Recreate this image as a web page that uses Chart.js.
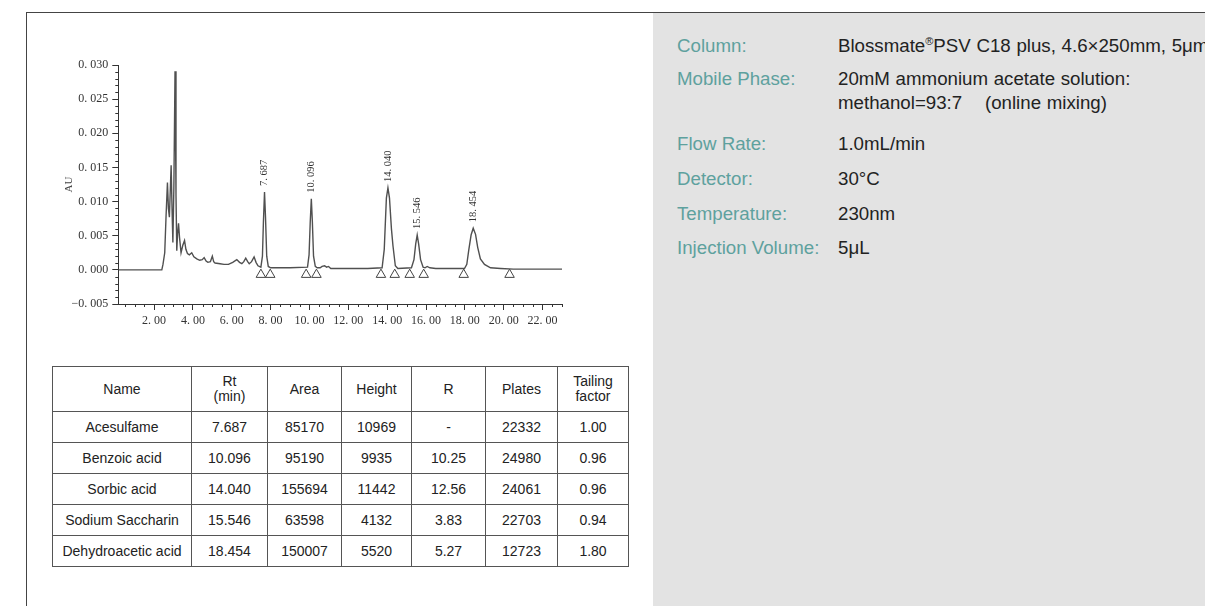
<!DOCTYPE html>
<html lang="en">
<head>
  <meta charset="UTF-8">
  <title>Preservatives and sweeteners HPLC</title>
  <script src="https://cdn.jsdelivr.net/npm/chart.js"></script>
  <style>
    body {
      margin: 0;
      width: 1205px;
      height: 606px;
      overflow: hidden;
      position: relative;
      background: #fff;
      font-family: "Liberation Sans", Arial, sans-serif;
    }
    #top-line {
      position: absolute;
      left: 26px;
      top: 12px;
      right: 0;
      height: 0;
      border-top: 1px solid #444;
    }
    #left-line {
      position: absolute;
      left: 26px;
      top: 12px;
      bottom: 0;
      border-left: 1px solid #444;
    }
    #chromChart {
      position: absolute;
      left: 0;
      top: 0;
    }
    #result-table {
      position: absolute;
      left: 52px;
      top: 366px;
      width: 576px;
      border-collapse: collapse;
      font-size: 14px;
      color: #222;
      table-layout: fixed;
    }
    #result-table td, #result-table th {
      border: 1px solid #555;
      text-align: center;
      font-weight: normal;
      padding: 0;
      height: 30px;
      line-height: 15px;
    }
    #result-table th { height: 44px; }
    #cond-panel {
      position: absolute;
      left: 653px;
      top: 13px;
      right: 0;
      bottom: 0;
      background: #e3e3e3;
      overflow: hidden;
    }
    .cond {
      position: absolute;
      font-size: 18.7px;
      line-height: 20px;
      white-space: nowrap;
    }
    .lbl { left: 24px; color: #5ea19e; }
    .val { left: 185px; color: #222; word-spacing: 0.5px; }
    .val sup { font-size: 11px; vertical-align: 7px; line-height: 0; }
  </style>
</head>
<body>
  <div id="top-line"></div>
  <div id="left-line"></div>
  <canvas id="chromChart" width="620" height="345"></canvas>

  <table id="result-table">
    <colgroup>
      <col style="width:139px"><col style="width:76px"><col style="width:74px"><col style="width:70px">
      <col style="width:74px"><col style="width:72px"><col style="width:71px">
    </colgroup>
    <thead id="table-head"></thead>
    <tbody id="table-body"></tbody>
  </table>

  <div id="cond-panel">
    <div class="cond lbl" style="top:23px">Column:</div>
    <div class="cond val" style="top:23px">Blossmate<sup>®</sup>PSV C18 plus, 4.6×250mm, 5μm</div>
    <div class="cond lbl" style="top:56px">Mobile Phase:</div>
    <div class="cond val" style="top:56px">20mM ammonium acetate solution:</div>
    <div class="cond val" style="top:80px">methanol=93:7&nbsp;&nbsp;&nbsp;&nbsp;(online mixing)</div>
    <div class="cond lbl" style="top:121px">Flow Rate:</div>
    <div class="cond val" style="top:121px">1.0mL/min</div>
    <div class="cond lbl" style="top:156px">Detector:</div>
    <div class="cond val" style="top:156px">30°C</div>
    <div class="cond lbl" style="top:191px">Temperature:</div>
    <div class="cond val" style="top:191px">230nm</div>
    <div class="cond lbl" style="top:225px">Injection Volume:</div>
    <div class="cond val" style="top:225px">5μL</div>
  </div>

  <script>
    // chromatogram trace: retention time (min) and absorbance (AU)
    const rtMin = [
      0.16, 2.40, 2.46, 2.55, 2.62, 2.69, 2.74, 2.79, 2.84, 2.88,
      2.93, 2.97, 3.02, 3.08, 3.13, 3.17, 3.21, 3.26, 3.31, 3.39,
      3.48, 3.57, 3.64, 3.72, 3.82, 3.94, 4.05, 4.20, 4.35, 4.48,
      4.58, 4.68, 4.77, 4.90, 5.00, 5.07, 5.14, 5.40, 5.60, 5.83,
      6.05, 6.26, 6.40, 6.52, 6.62, 6.72, 6.82, 6.90, 7.02, 7.15,
      7.25, 7.35, 7.50, 7.58, 7.63, 7.687, 7.74, 7.80, 7.88, 8.00,
      9.00, 9.90, 9.98, 10.04, 10.096, 10.15, 10.21, 10.30, 10.40, 10.55,
      10.65, 10.78, 10.88, 10.98, 11.10, 12.00, 13.00, 13.74, 13.85, 13.96,
      14.04, 14.12, 14.22, 14.30, 14.42, 14.55, 15.25, 15.38, 15.47, 15.546,
      15.62, 15.72, 15.85, 15.95, 16.06, 16.20, 16.50, 17.98, 18.10, 18.20,
      18.32, 18.43, 18.55, 18.66, 18.80, 19.01, 19.32, 19.84, 20.50, 23.00
    ];
    const absAU = [
      0.0000, 0.0000, 0.0008, 0.0025, 0.0080, 0.0128, 0.0090, 0.0077, 0.0120, 0.0153,
      0.0085, 0.0040, 0.0120, 0.0291, 0.0110, 0.0028, 0.0052, 0.0068, 0.0048, 0.0025,
      0.0036, 0.0043, 0.0030, 0.0024, 0.0022, 0.0025, 0.0019, 0.0016, 0.0014, 0.0015,
      0.0018, 0.0013, 0.0011, 0.0012, 0.0020, 0.0012, 0.0010, 0.0009, 0.0008, 0.0008,
      0.0011, 0.0015, 0.0011, 0.0009, 0.0012, 0.0017, 0.0012, 0.0009, 0.0012, 0.0019,
      0.0011, 0.0006, 0.0004, 0.0020, 0.0070, 0.0114, 0.0075, 0.0020, 0.0005, 0.0003,
      0.0003, 0.0004, 0.0022, 0.0070, 0.0104, 0.0070, 0.0020, 0.0005, 0.0003, 0.0003,
      0.0005, 0.0006, 0.0004, 0.0005, 0.0002, 0.0002, 0.0002, 0.0003, 0.0030, 0.0105,
      0.0120, 0.0105, 0.0060, 0.0035, 0.0006, 0.0002, 0.0003, 0.0015, 0.0038, 0.0051,
      0.0038, 0.0015, 0.0004, 0.0003, 0.0005, 0.0003, 0.0002, 0.0002, 0.0008, 0.0029,
      0.0051, 0.0061, 0.0052, 0.0033, 0.0016, 0.0008, 0.0003, 0.0002, 0.0001, 0.0001
    ];

    // labelled peaks
    const peakRt = [7.687, 10.096, 14.040, 15.546, 18.454];
    const peakTopAU = [0.0114, 0.0104, 0.0120, 0.0051, 0.0061];

    // integration markers (hollow triangles)
    const markerRt = [7.50, 7.98, 9.83, 10.36, 13.68, 14.39, 15.16, 15.88, 17.94, 20.30];
    const markerAU = [-0.0007, -0.0007, -0.0007, -0.0007, -0.0007, -0.0007, -0.0007, -0.0007, -0.0007, -0.0007];

    const xTickVals = [2, 4, 6, 8, 10, 12, 14, 16, 18, 20, 22];
    const yTickVals = [-0.005, 0, 0.005, 0.010, 0.015, 0.020, 0.025, 0.030];

    // table
    const tableHead = ['Name', 'Rt<br>(min)', 'Area', 'Height', 'R', 'Plates', 'Tailing<br>factor'];
    const compNames = ['Acesulfame', 'Benzoic acid', 'Sorbic acid', 'Sodium Saccharin', 'Dehydroacetic acid'];
    const compRt = ['7.687', '10.096', '14.040', '15.546', '18.454'];
    const compArea = ['85170', '95190', '155694', '63598', '150007'];
    const compHeight = ['10969', '9935', '11442', '4132', '5520'];
    const compR = ['-', '10.25', '12.56', '3.83', '5.27'];
    const compPlates = ['22332', '24980', '24061', '22703', '12723'];
    const compTailing = ['1.00', '0.96', '0.96', '0.94', '1.80'];

    document.getElementById('table-head').innerHTML =
      '<tr>' + tableHead.map(h => `<th>${h}</th>`).join('') + '</tr>';
    let rows = '';
    for (let i = 0; i < compNames.length; i++) {
      rows += '<tr>' + [compNames[i], compRt[i], compArea[i], compHeight[i], compR[i], compPlates[i], compTailing[i]]
        .map(c => `<td>${c}</td>`).join('') + '</tr>';
    }
    document.getElementById('table-body').innerHTML = rows;

    // "0. 030" style numbers like the instrument printout
    function fmtNum(v, digits) {
      const s = Math.abs(v).toFixed(digits).replace('.', '. ');
      return (v < -1e-9 ? '−' : '') + s;
    }

    const tickFont = { family: 'Liberation Serif', size: 12 };
    const inkColor = '#333';

    // minor ticks + peak retention labels
    const axisExtras = {
      id: 'axisExtras',
      afterDraw(chart) {
        const { ctx, scales: { x, y } } = chart;
        ctx.save();
        ctx.strokeStyle = '#333';
        ctx.lineWidth = 1;
        ctx.beginPath();
        for (let t = 0.5; t <= x.max; t += 0.5) {
          if (t % 2 === 0) continue;
          const px = Math.round(x.getPixelForValue(t)) + 0.5;
          ctx.moveTo(px, y.bottom);
          ctx.lineTo(px, y.bottom + 3);
        }
        for (let k = -5; k <= 30; k++) {
          if (k % 5 === 0) continue;
          const py = Math.round(y.getPixelForValue(k / 1000)) + 0.5;
          ctx.moveTo(x.left - 3, py);
          ctx.lineTo(x.left, py);
        }
        ctx.stroke();

        ctx.fillStyle = '#333';
        ctx.font = '10.5px "Liberation Serif"';
        ctx.textAlign = 'left';
        ctx.textBaseline = 'middle';
        peakRt.forEach((rt, i) => {
          const px = x.getPixelForValue(rt);
          const py = y.getPixelForValue(peakTopAU[i]) - 6;
          ctx.save();
          ctx.translate(px, py);
          ctx.rotate(-Math.PI / 2);
          ctx.fillText(fmtNum(rt, 3), 0, 0);
          ctx.restore();
        });
        ctx.restore();
      }
    };

    const ctx = document.getElementById('chromChart').getContext('2d');
    new Chart(ctx, {
      type: 'line',
      data: {
        datasets: [
          {
            label: 'AU',
            data: rtMin.map((t, i) => ({ x: t, y: absAU[i] })),
            borderColor: '#505050',
            borderWidth: 1.4,
            pointRadius: 0,
            tension: 0,
            fill: false
          },
          {
            label: 'markers',
            data: markerRt.map((t, i) => ({ x: t, y: markerAU[i] })),
            showLine: false,
            pointStyle: 'triangle',
            pointRadius: 5.5,
            backgroundColor: 'rgba(0,0,0,0)',
            borderColor: '#444',
            borderWidth: 1
          }
        ]
      },
      options: {
        responsive: false,
        animation: false,
        devicePixelRatio: 1,
        layout: { padding: { left: 55, top: 65, right: 58, bottom: 0 } },
        plugins: {
          legend: { display: false },
          tooltip: { enabled: false }
        },
        scales: {
          x: {
            type: 'linear',
            min: 0.16,
            max: 23.0,
            afterBuildTicks: s => { s.ticks = xTickVals.map(v => ({ value: v })); },
            afterFit: s => { s.height = 41; },
            ticks: {
              font: tickFont,
              color: inkColor,
              padding: 4,
              maxRotation: 0,
              autoSkip: false,
              callback: v => fmtNum(v, 2)
            },
            grid: { drawOnChartArea: false, drawTicks: true, tickLength: 6, color: '#333' },
            border: { display: true, color: '#333', width: 1 }
          },
          y: {
            type: 'linear',
            min: -0.005,
            max: 0.030,
            afterBuildTicks: s => { s.ticks = yTickVals.map(v => ({ value: v })); },
            afterFit: s => { s.width = 63.3; },
            ticks: {
              font: tickFont,
              color: inkColor,
              padding: 4,
              autoSkip: false,
              callback: v => fmtNum(v, 3)
            },
            grid: { drawOnChartArea: false, drawTicks: true, tickLength: 6, color: '#333' },
            border: { display: true, color: '#333', width: 1 },
            title: {
              display: true,
              text: 'AU',
              font: { family: 'Liberation Serif', size: 11 },
              color: '#444',
              padding: { top: 8, bottom: 0 }
            }
          }
        }
      },
      plugins: [axisExtras]
    });
  </script>
</body>
</html>
